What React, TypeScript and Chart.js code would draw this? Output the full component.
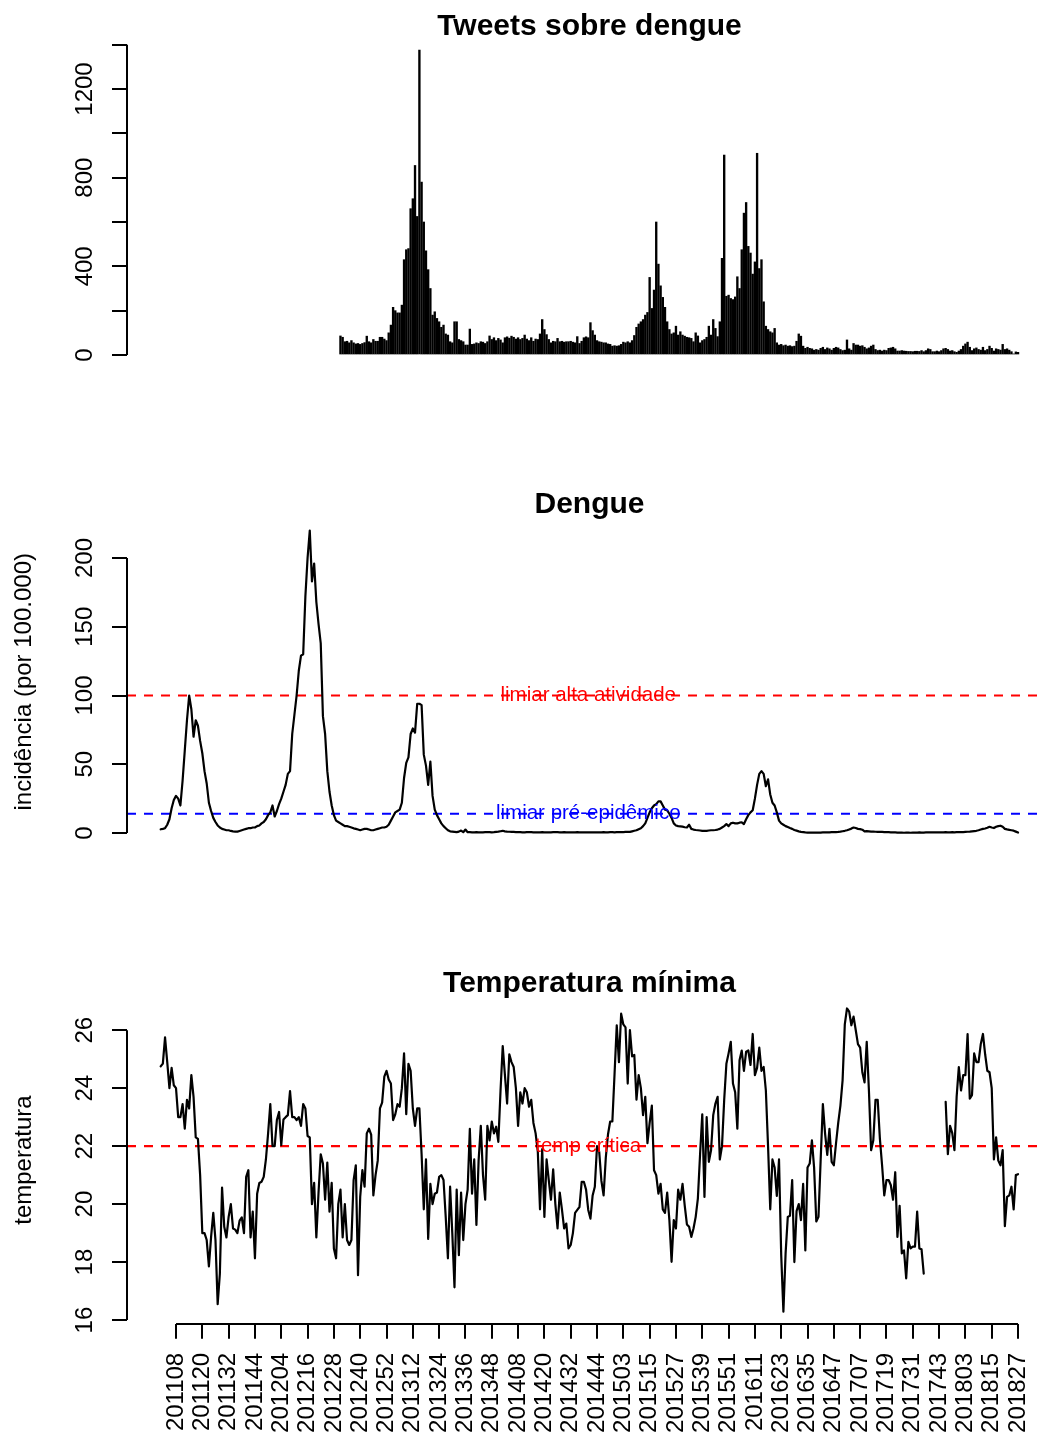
import React, { useEffect, useRef } from "react";
import { Chart, registerables } from "chart.js";

Chart.register(...registerables);

const FONT = '"Liberation Sans", Arial, Helvetica, sans-serif';

// week index 1 = 201101 ... 392 = 201827
const xTickPositions = [8, 20, 32, 44, 56, 68, 80, 92, 104, 116, 128, 140, 152, 164, 176, 188, 200, 212, 224, 236, 248, 260, 272, 284, 296, 308, 320, 332, 344, 356, 368, 380, 392];
const xTickLabels = ["201108", "201120", "201132", "201144", "201204", "201216", "201228", "201240", "201252", "201312", "201324", "201336", "201348", "201408", "201420", "201432", "201444", "201503", "201515", "201527", "201539", "201551", "201611", "201623", "201635", "201647", "201707", "201719", "201731", "201743", "201803", "201815", "201827"];

// Tweets sobre dengue (first value is week index 83)
const tweetsFirstWeek = 83;
const tweetsValues = [
  86, 80, 60, 62, 55, 65, 55, 50, 52, 48, 52, 56, 85, 60, 55, 70, 62, 62, 80, 80, 72, 65,
  100, 135, 215, 200, 190, 190, 225, 430, 475, 480, 660, 705, 855, 625, 1376, 780, 600, 470, 385, 300, 180, 195, 165, 150, 125, 135,
  95, 90, 60, 55, 150, 150, 70, 65, 60, 45, 45, 117, 48, 50, 55, 52, 60, 58, 52, 60,
  86, 70, 78, 65, 75, 68, 55, 78, 82, 76, 85, 80, 72, 78, 70, 75, 90, 72, 65, 78,
  62, 72, 70, 95, 160, 115, 92, 70, 55, 62, 60, 75, 60, 62, 58,
  60, 60, 62, 58, 55, 83, 52, 62, 78, 82, 78, 146, 110, 90, 65, 60, 58, 55, 55, 50,
  48, 40, 42, 40, 42, 48, 58, 55, 60, 55, 65, 88, 125, 140, 150, 160, 180, 192, 350, 210,
  293, 600, 410, 312, 260, 215, 150, 115, 95, 100, 130, 90, 105, 90, 85, 80, 78, 75, 60, 100,
  86, 55, 65, 70, 80, 130, 90, 160, 120, 83, 150, 436, 902, 265, 270, 255, 250, 262, 353, 300,
  475, 640, 688, 490, 460, 365, 420, 910, 390, 430, 240, 130, 115, 105, 100, 120, 55, 45, 48, 42, 45, 40, 42, 38, 40,
  62, 95, 85, 40, 30, 35, 30, 28, 22, 25, 22, 30, 35, 25, 32, 28, 22, 30, 35, 32,
  25, 20, 22, 68, 28, 22, 52, 45, 45, 40, 42, 35, 28, 32, 40, 45, 25, 20, 22, 18,
  22, 20, 30, 32, 35, 28, 18, 18, 20, 18, 17, 16, 16, 15, 17, 17, 16, 20, 15, 20,
  28, 25, 15, 15, 18, 15, 20, 28, 30, 25, 18, 20, 15, 12, 18, 25, 40, 50, 58, 35,
  20, 28, 32, 25, 22, 35, 20, 25, 40, 30, 18, 28, 25, 22, 48, 25, 28, 22, 15, 5, 14, 12,
];

// Dengue incidence per 100.000, weeks 1..392
const dengueValues = [
  2.7, 3, 3.5, 6, 10, 18, 24, 27, 25, 20, 38, 60, 82, 100, 90, 70, 82, 78, 67, 58,
  45, 36, 22, 16, 11, 8, 5.5, 4, 3, 2.5, 2, 2, 1.5, 1.2, 1, 1, 1.5, 2, 2.5, 3,
  3.5, 3.5, 4, 4, 5, 5.5, 7, 8, 10, 13, 15, 20, 12, 16, 21, 25, 30, 35, 43, 45,
  72, 86, 100, 118, 129, 130, 172, 200, 220, 183, 196, 168, 152, 138, 85, 72, 45, 30, 20, 13,
  9, 8, 7, 6, 5, 5, 4.5, 4, 3.4, 3, 2.5, 2, 2.5, 3, 3, 2.5,
  2, 2, 2.5, 3, 3.5, 4, 4, 4.5, 6, 9, 12, 15, 16, 17, 22, 40, 51, 55, 72, 76,
  73, 94, 94, 93, 57, 49, 35, 52, 27, 17, 13, 10, 7, 5, 3.5, 2, 1.2, 1, 0.8, 0.6, 1, 1.8, 0.6, 2.5, 0.6,
  0.6, 0.5, 0.5, 0.6, 0.5, 0.4, 0.5, 0.6, 0.7, 0.6, 0.5, 0.6, 0.8, 1.0, 1.3, 1.6, 1.2, 1.0, 0.9, 0.8,
  0.8, 0.7, 0.6, 0.6, 0.5, 0.5, 0.6, 0.7, 0.6, 0.5, 0.5, 0.4, 0.5, 0.6, 0.5, 0.4, 0.4, 0.5, 0.6, 0.7,
  0.6, 0.5, 0.5, 0.6, 0.5, 0.4, 0.4, 0.5, 0.5, 0.6, 0.5, 0.5, 0.4, 0.4, 0.5,
  0.5, 0.5, 0.4, 0.4, 0.5, 0.5, 0.6, 0.5, 0.5, 0.6, 0.6, 0.5, 0.6, 0.7, 0.6, 0.7, 0.8, 0.8,
  0.8, 1.2, 1.6, 2, 2.8, 3.5, 5, 7, 11, 15, 18, 20, 21, 23, 23, 20, 17, 16.5, 14, 11, 7, 5.5, 5, 4.8, 4.6, 4.2,
  4, 6, 3, 2.5, 2.2, 2, 1.8, 1.5, 1.5, 1.6, 1.8, 2, 2, 2.2, 2.5, 3, 4, 5, 6.5, 5,
  7, 7.5, 7, 7, 7.5, 7.8, 6.5, 10, 13, 15, 16.5, 25, 35, 43, 45, 43, 34, 39, 28, 22,
  20, 15, 9, 7, 6, 5, 4.3, 3.6, 3, 2.2, 1.7, 1.2, 0.8, 0.6, 0.4, 0.3, 0.3,
  0.3, 0.3, 0.3, 0.3, 0.3, 0.4, 0.4, 0.5, 0.5, 0.6, 0.6, 0.7, 0.8, 1, 1.3, 1.6, 2, 2.6, 3.2, 4,
  3.6, 3, 2.8, 2.4, 1.2, 1.4, 1.2, 1, 1, 0.9, 0.8, 0.8, 0.8, 0.7, 0.6, 0.6, 0.5, 0.4,
  0.4, 0.3, 0.3, 0.3, 0.2, 0.3, 0.3, 0.2, 0.3, 0.3, 0.3, 0.4, 0.3, 0.3, 0.4, 0.4, 0.5, 0.4, 0.5, 0.5,
  0.4, 0.5, 0.5, 0.6, 0.5, 0.5, 0.6, 0.5, 0.6, 0.6,
  0.6, 0.7, 0.8, 0.9, 1, 1.2, 1.4, 1.6, 2, 2.5, 3, 3.3, 3.8, 4.5, 4, 3.6, 4.5, 5, 5.3, 4.5, 3, 2.6, 2.3, 2, 1.7, 1, 0.3,
];

// Temperatura mínima, weeks 1..392 (null = missing)
const tempValues: (number | null)[] = [
  24.75, 24.85, 25.75, 24.9, 24.0, 24.7, 24.1, 24.0, 23.0, 23.0, 23.45, 22.6, 23.6, 23.3, 24.45, 23.7, 22.3, 22.25, 21.0, 19.0,
  19.0, 18.76, 17.85, 18.87, 19.7, 18.76, 16.55, 17.6, 20.57, 19.22, 18.85, 19.56, 20.0, 19.16, 19.12, 19.0, 19.43, 19.54, 19.0, 20.94,
  21.17, 18.85, 19.74, 18.13, 20.36, 20.73, 20.77, 20.94, 21.54, 22.44, 23.45, 22.0, 22.0, 22.9, 23.18, 22.03, 22.92, 23.0, 23.07, 23.9,
  23.0, 23.0, 22.9, 23.0, 22.7, 23.45, 23.3, 22.35, 22.3, 20.0, 20.73, 18.85, 20.4, 21.72, 21.4, 20.15, 21.43, 19.74, 20.73, 18.47,
  18.13, 20.0, 20.5, 18.85, 20.0, 18.76, 18.59, 18.76, 20.83, 21.34, 17.55, 20.25, 21.17, 20.6, 22.44, 22.6,
  22.4, 20.3, 21.0, 21.5, 23.3, 23.5, 24.4, 24.6, 24.3, 24.16, 22.9, 23.1, 23.45, 23.36, 24.0, 25.2, 23.1, 24.84, 24.6, 23.3,
  22.7, 23.3, 23.3, 21.72, 19.82, 21.54, 18.8, 20.7, 20.0, 20.36, 20.4, 20.94, 21.0, 20.83, 19.56, 18.13, 20.6, 19.0, 17.13, 20.5,
  18.24, 20.4, 18.76, 20.0, 20.5, 22.6, 20.36, 21.54, 19.28, 21.5, 22.7, 21.0, 20.15, 22.7, 22.2, 22.85, 22.44, 22.67, 22.15, 23.92,
  25.45, 24.45, 23.47, 25.17, 24.9, 24.73, 24.0, 22.7, 23.86, 23.47, 24.0, 23.86, 23.36, 23.6, 22.8, 22.44, 21.8, 19.82, 21.9, 19.56,
  21.54, 20.83, 20.15, 21.2, 20.0, 19.16, 20.4, 19.82, 19.16, 19.33, 18.47, 18.59, 19.0, 19.7, 19.8, 19.9, 20.77, 20.77, 20.5, 19.8,
  19.5, 20.3, 20.6, 22.0, 21.8, 20.8, 20.3, 21.6, 22.4, 22.85, 22.85, 24.5, 26.17, 24.9, 26.57, 26.2, 26.1, 24.16, 26.0, 25.1,
  25.15, 23.6, 24.45, 24.0, 23.07, 23.7, 22.1, 22.8, 23.4, 21.17, 21.0, 20.36, 20.7, 19.82, 19.7, 20.4, 19.45, 18.01, 19.45, 19.16,
  20.5, 20.15, 20.7, 19.95, 19.3, 19.22, 18.87, 19.16, 19.56, 20.2, 21.72, 23.1, 20.25, 23.0, 21.46, 21.86, 23.07, 23.47, 23.7, 21.54,
  22.0, 23.6, 24.84, 25.2, 25.6, 24.16, 23.86, 22.6, 24.96, 25.3, 24.6, 25.26, 25.3, 24.8, 25.87, 24.45, 24.7, 25.4, 24.6, 24.73,
  23.92, 22.0, 19.82, 21.54, 21.26, 20.28, 21.54, 18.24, 16.29, 18.3, 19.56, 19.6, 20.83, 18.0, 19.76, 20.0, 19.45, 20.7, 18.4, 21.26, 21.4,
  22.2, 21.26, 19.4, 19.56, 21.54, 23.45, 22.44, 21.7, 22.6, 21.46, 21.34, 22.1, 22.8, 23.4, 24.28, 26.2, 26.75, 26.64, 26.17, 26.47,
  26.0, 25.52, 25.4, 24.55, 24.2, 25.6, 23.92, 21.86, 22.2, 23.6, 23.6, 22.26, 21.34, 20.3, 20.83, 20.83, 20.65, 20.15, 21.1, 18.87,
  19.94, 18.3, 18.4, 17.44, 18.7, 18.47, 18.53, 18.53, 19.74, 18.47, 18.44, 17.6,
  null, null, null, null, null, null, null, null, null,
  23.53, 21.72, 22.7, 22.45, 21.86, 23.7, 24.73, 23.92, 24.45, 24.45, 25.87, 23.64, 23.76, 25.2, 24.9, 24.9, 25.52, 25.87, 25.17, 24.6,
  24.55, 24.0, 21.54, 22.3, 21.5, 21.34, 21.86, 19.24, 20.25, 20.3, 20.6, 19.82, 21.0, 21.03,
];

// axis ticks
const tweetsTicks = [0, 200, 400, 600, 800, 1000, 1200, 1400];
const tweetsTickLabels = [0, 400, 800, 1200];
const dengueTicks = [0, 50, 100, 150, 200];
const tempTicks = [16, 18, 20, 22, 24, 26];

// thresholds
const limiarAlta = 100;
const limiarPre = 14;
const tempCritica = 22;
const noteWeek = 196;

// layout constants
const X_MIN = -14.35;
const X_MAX = 404.3;
const AXIS_W = 127;
const TITLE_CX = 589.5;
const YLAB_X = 92;
const YTITLE_X = 31;

const rStyle = {
  id: "rStyle",
  afterDraw(chart: any, _args: any, o: any) {
    const { ctx, chartArea } = chart;
    const xs = chart.scales.x;
    const ys = chart.scales.y;
    ctx.save();
    ctx.strokeStyle = "#000";
    ctx.lineWidth = 2;
    ctx.lineCap = "butt";
    ctx.beginPath();
    ctx.moveTo(chartArea.left, ys.getPixelForValue(o.yTicks[0]));
    ctx.lineTo(chartArea.left, ys.getPixelForValue(o.yTicks[o.yTicks.length - 1]));
    ctx.stroke();
    if (o.xAxis) {
      const yy = Math.round(chartArea.bottom);
      ctx.beginPath();
      ctx.moveTo(xs.getPixelForValue(xTickPositions[0]), yy);
      ctx.lineTo(xs.getPixelForValue(xTickPositions[xTickPositions.length - 1]), yy);
      ctx.stroke();
    }
    ctx.fillStyle = "#000";
    ctx.font = `24px ${FONT}`;
    ctx.textAlign = "center";
    ctx.textBaseline = "alphabetic";
    o.yLabels.forEach((v: number) => {
      ctx.save();
      ctx.translate(YLAB_X, ys.getPixelForValue(v));
      ctx.rotate(-Math.PI / 2);
      ctx.fillText(String(v), 0, 0);
      ctx.restore();
    });
    if (o.yTitle) {
      ctx.save();
      ctx.translate(YTITLE_X, (chartArea.top + chartArea.bottom) / 2);
      ctx.rotate(-Math.PI / 2);
      ctx.fillText(o.yTitle, 0, 0);
      ctx.restore();
    }
    ctx.font = `bold 30px ${FONT}`;
    ctx.fillText(o.title, TITLE_CX, o.titleY);
    ctx.font = `20.5px ${FONT}`;
    ctx.textBaseline = "middle";
    (o.notes || []).forEach((n: any) => {
      ctx.fillStyle = n.color;
      ctx.fillText(n.text, xs.getPixelForValue(n.x), ys.getPixelForValue(n.y));
    });
    ctx.restore();
  },
};

function yScale(min: number, max: number, ticks: number[]) {
  return {
    type: "linear",
    min,
    max,
    afterBuildTicks: (s: any) => {
      s.ticks = ticks.map((v) => ({ value: v }));
    },
    afterFit: (s: any) => {
      s.width = AXIS_W;
      s.paddingTop = 0;
      s.paddingBottom = 0;
    },
    ticks: { display: false },
    grid: { drawOnChartArea: false, drawTicks: true, tickLength: 15, color: "#000", lineWidth: 2 },
    border: { display: false },
  };
}

const hiddenX = {
  type: "linear",
  min: X_MIN,
  max: X_MAX,
  offset: false,
  display: false,
  grid: { offset: false },
};

function hLine(y: number, color: string) {
  return {
    type: "line",
    data: [
      { x: X_MIN, y },
      { x: X_MAX, y },
    ],
    borderColor: color,
    borderWidth: 2.2,
    borderDash: [9, 8],
    pointRadius: 0,
    fill: false,
  };
}

const baseOpts = {
  responsive: false,
  animation: false,
  devicePixelRatio: 1,
  events: [],
};

function tweetsConfig(): any {
  return {
    type: "bar",
    data: {
      datasets: [
        {
          data: tweetsValues.map((v, k) => ({ x: tweetsFirstWeek + k, y: v })),
          backgroundColor: "#000",
          barThickness: 1.7,
          borderWidth: 0,
        },
      ],
    },
    options: {
      ...baseOpts,
      layout: { padding: { top: 39, bottom: 73, left: 0, right: 0 } },
      scales: { x: hiddenX, y: yScale(-54.1, 1425.5, tweetsTicks) },
      plugins: {
        legend: { display: false },
        tooltip: { enabled: false },
        rStyle: { yTicks: tweetsTicks, yLabels: tweetsTickLabels, title: "Tweets sobre dengue", titleY: 35 },
      },
    },
    plugins: [rStyle],
  };
}

function dengueConfig(): any {
  return {
    type: "line",
    data: {
      datasets: [
        {
          data: dengueValues.map((v, k) => ({ x: k + 1, y: v })),
          borderColor: "#000",
          borderWidth: 2.2,
          pointRadius: 0,
          borderJoinStyle: "round",
          borderCapStyle: "round",
          fill: false,
        },
        hLine(limiarAlta, "#FF0000"),
        hLine(limiarPre, "#0000FF"),
      ],
    },
    options: {
      ...baseOpts,
      layout: { padding: { top: 78.4, bottom: 74.9, left: 0, right: 0 } },
      scales: { x: hiddenX, y: yScale(-8.8, 228.8, dengueTicks) },
      plugins: {
        legend: { display: false },
        tooltip: { enabled: false },
        rStyle: {
          yTicks: dengueTicks,
          yLabels: dengueTicks,
          yTitle: "incidência (por 100.000)",
          title: "Dengue",
          titleY: 73,
          notes: [
            { text: "limiar alta atividade", x: noteWeek, y: limiarAlta, color: "#FF0000" },
            { text: "limiar pré-epidêmico", x: noteWeek, y: limiarPre, color: "#0000FF" },
          ],
        },
      },
    },
    plugins: [rStyle],
  };
}

function tempConfig(): any {
  return {
    type: "line",
    data: {
      datasets: [
        {
          data: tempValues.map((v, k) => ({ x: k + 1, y: v })),
          borderColor: "#000",
          borderWidth: 2.2,
          pointRadius: 0,
          borderJoinStyle: "round",
          borderCapStyle: "round",
          spanGaps: false,
          fill: false,
        },
        hLine(tempCritica, "#FF0000"),
      ],
    },
    options: {
      ...baseOpts,
      layout: { padding: { top: 76.3, bottom: 0, left: 0, right: 0 } },
      scales: {
        x: {
          type: "linear",
          min: X_MIN,
          max: X_MAX,
          offset: false,
          afterBuildTicks: (s: any) => {
            s.ticks = xTickPositions.map((v) => ({ value: v }));
          },
          afterFit: (s: any) => {
            s.height = 115.2;
            s.paddingLeft = 0;
            s.paddingRight = 0;
          },
          ticks: {
            autoSkip: false,
            minRotation: 90,
            maxRotation: 90,
            padding: 14,
            color: "#000",
            font: { family: FONT, size: 24 },
            callback: (_v: any, i: number) => xTickLabels[i],
          },
          grid: { drawOnChartArea: false, drawTicks: true, tickLength: 15, color: "#000", lineWidth: 2, offset: false },
          border: { display: false },
        },
        y: yScale(15.87, 27.17, tempTicks),
      },
      plugins: {
        legend: { display: false },
        tooltip: { enabled: false },
        rStyle: {
          yTicks: tempTicks,
          yLabels: tempTicks,
          yTitle: "temperatura",
          title: "Temperatura mínima",
          titleY: 72,
          xAxis: true,
          notes: [{ text: "temp crítica", x: noteWeek, y: tempCritica, color: "#FF0000" }],
        },
      },
    },
    plugins: [rStyle],
  };
}

function Panel({ make, top, height }: { make: () => any; top: number; height: number }) {
  const ref = useRef<HTMLCanvasElement>(null);
  useEffect(() => {
    const chart = new Chart(ref.current as HTMLCanvasElement, make());
    return () => chart.destroy();
  }, []);
  return (
    <canvas
      ref={ref}
      width={1045}
      height={height}
      style={{ position: "absolute", left: 0, top, width: 1045, height, display: "block" }}
    />
  );
}

export default function App() {
  return (
    <div style={{ position: "absolute", left: 0, top: 0, width: 1045, height: 1439, background: "#fff", overflow: "hidden" }}>
      <Panel make={tweetsConfig} top={0} height={440} />
      <Panel make={dengueConfig} top={440} height={480} />
      <Panel make={tempConfig} top={920} height={519} />
    </div>
  );
}
